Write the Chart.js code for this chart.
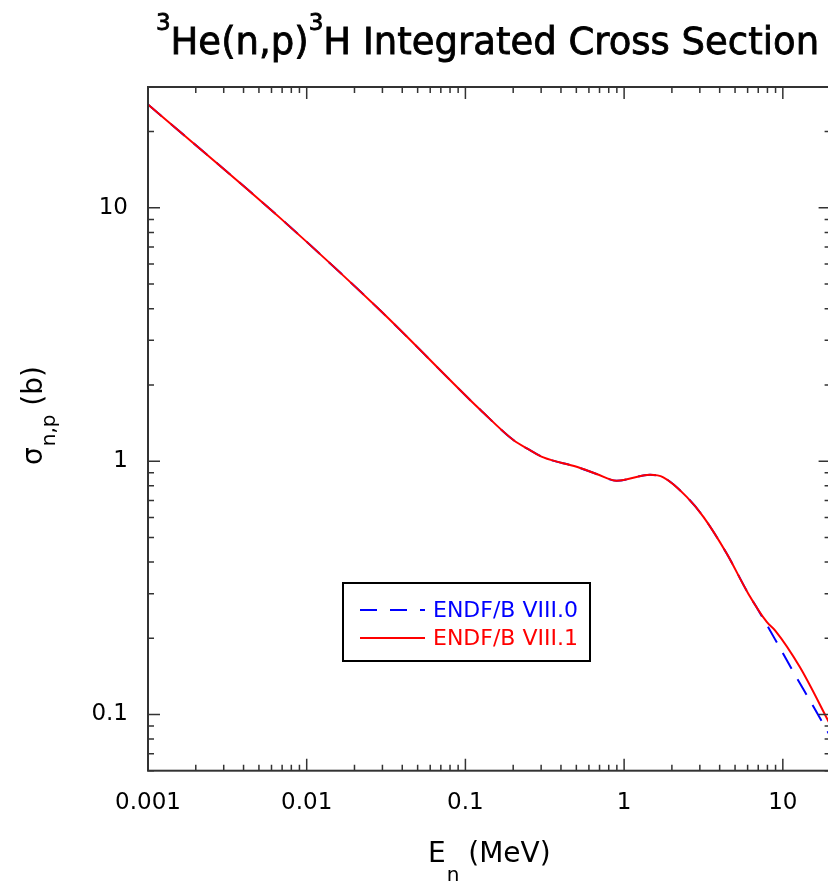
<!DOCTYPE html>
<html>
<head>
<meta charset="utf-8">
<script src="https://cdn.jsdelivr.net/npm/chart.js@4.4.1/dist/chart.umd.min.js"></script>
<style>
html,body{margin:0;padding:0;overflow:hidden;background:#fff;}
#wrap{width:840px;height:882px;}
</style>
</head>
<body>
<div id="wrap"><canvas id="xsChart" width="840" height="882"></canvas></div>
<script>
// values (E in MeV, sigma in barns)
const energyVIII1 = [0.001, 0.00679, 0.029, 0.107, 0.1236, 0.2005, 0.255, 0.31, 0.502, 0.671, 0.897, 1.456, 1.766, 2.48, 3.16, 4.43, 6.06, 7.92, 8.93, 12.8, 20];
const sigmaVIII1  = [25.6, 9.13, 3.94, 1.745, 1.60, 1.212, 1.106, 1.035, 0.95, 0.89, 0.837, 0.883, 0.863, 0.723, 0.603, 0.432, 0.30, 0.232, 0.215, 0.154, 0.0906];

const energyVIII0 = [0.001, 0.00679, 0.029, 0.107, 0.1236, 0.2005, 0.255, 0.31, 0.502, 0.671, 0.897, 1.456, 1.766, 2.48, 3.16, 4.43, 6.06, 7.01, 9.06, 11.6, 15.0, 20];
const sigmaVIII0  = [25.6, 9.13, 3.94, 1.745, 1.60, 1.212, 1.106, 1.035, 0.95, 0.89, 0.837, 0.883, 0.863, 0.723, 0.603, 0.432, 0.30, 0.258, 0.195, 0.148, 0.112, 0.0818];

const seriesLabels = ['ENDF/B VIII.0', 'ENDF/B VIII.1'];

const xTickValues = [0.001, 0.01, 0.1, 1, 10];
const xTickLabels = ['0.001', '0.01', '0.1', '1', '10'];
const yTickValues = [0.1, 1, 10];
const yTickLabels = ['0.1', '1', '10'];

const FONT = 'DejaVu Sans';
const BLUE = '#0000ff';
const RED = '#ff0000';

const toPoints = (xs, ys) => xs.map((x, i) => ({ x: x, y: ys[i] }));

/* minor + major ticks per decade */
function decadeTicks(min, max) {
  const out = [];
  for (let e = Math.floor(Math.log10(min)); e <= Math.ceil(Math.log10(max)); e++) {
    for (let m = 1; m < 10; m++) {
      const v = m * Math.pow(10, e);
      if (v >= min * 0.999 && v <= max * 1.001) out.push({ v: v, major: m === 1 });
    }
  }
  return out;
}

/* frame with inward ticks on all four sides */
const framePlugin = {
  id: 'frame',
  afterDatasetsDraw(chart) {
    const { ctx, chartArea: a, scales: { x, y } } = chart;
    ctx.save();
    ctx.strokeStyle = '#333';
    ctx.lineWidth = 2;
    ctx.strokeRect(a.left, a.top, a.right - a.left, a.bottom - a.top);
    ctx.lineWidth = 1.5;
    ctx.beginPath();
    decadeTicks(x.min, x.max).forEach(t => {
      const px = x.getPixelForValue(t.v);
      const len = t.major ? 12 : 6;
      ctx.moveTo(px, a.bottom); ctx.lineTo(px, a.bottom - len);
      ctx.moveTo(px, a.top); ctx.lineTo(px, a.top + len);
    });
    decadeTicks(y.min, y.max).forEach(t => {
      const py = y.getPixelForValue(t.v);
      const len = t.major ? 12 : 6;
      ctx.moveTo(a.left, py); ctx.lineTo(a.left + len, py);
      ctx.moveTo(a.right, py); ctx.lineTo(a.right - len, py);
    });
    ctx.stroke();
    ctx.restore();
  }
};

/* title, axis titles with sub/superscripts, legend box */
const textPlugin = {
  id: 'texts',
  afterDraw(chart) {
    const ctx = chart.ctx;
    ctx.save();
    ctx.fillStyle = '#000';
    ctx.textBaseline = 'alphabetic';
    ctx.textAlign = 'left';

    // title
    const parts = [
      { t: '3', sup: true },
      { t: 'He(n,p)', sup: false },
      { t: '3', sup: true },
      { t: 'H Integrated Cross Section', sup: false }
    ];
    const mainF = '37px ' + FONT, supF = '23px ' + FONT;
    let total = 0;
    parts.forEach(p => { ctx.font = p.sup ? supF : mainF; p.w = ctx.measureText(p.t).width; total += p.w; });
    let tx = 487.5 - total / 2;
    ctx.strokeStyle = '#000';
    ctx.lineWidth = 0.8;
    parts.forEach(p => {
      ctx.font = p.sup ? supF : mainF;
      ctx.fillText(p.t, tx, p.sup ? 30 : 54);
      ctx.strokeText(p.t, tx, p.sup ? 30 : 54);
      tx += p.w;
    });

    // x axis title
    ctx.font = '28px ' + FONT;
    let ex = 428;
    ctx.fillText('E', ex, 862);
    ex += ctx.measureText('E').width + 1;
    ctx.font = '20px ' + FONT;
    ctx.fillText('n', ex, 881);
    ex += ctx.measureText('n').width;
    ctx.font = '28px ' + FONT;
    ctx.fillText(' (MeV)', ex, 862);

    // y axis title
    ctx.save();
    ctx.translate(41.7, 465);
    ctx.rotate(-Math.PI / 2);
    ctx.font = '28px ' + FONT;
    ctx.fillText('σ', 0, 0);
    let sw = ctx.measureText('σ').width + 1;
    ctx.font = '20px ' + FONT;
    ctx.fillText('n,p', sw, 13);
    sw += ctx.measureText('n,p').width;
    ctx.font = '28px ' + FONT;
    ctx.fillText(' (b)', sw, 0);
    ctx.restore();

    // legend
    const lx = 343, ly = 583, lw = 247, lh = 78;
    ctx.fillStyle = '#fff';
    ctx.fillRect(lx, ly, lw, lh);
    ctx.strokeStyle = '#000';
    ctx.lineWidth = 2;
    ctx.strokeRect(lx, ly, lw, lh);
    const items = [
      { label: seriesLabels[0], color: BLUE, dash: [17, 13], y: 610 },
      { label: seriesLabels[1], color: RED, dash: [], y: 638 }
    ];
    ctx.font = '22px ' + FONT;
    ctx.textBaseline = 'middle';
    items.forEach(it => {
      ctx.strokeStyle = it.color;
      ctx.lineWidth = 2;
      ctx.setLineDash(it.dash);
      ctx.beginPath();
      ctx.moveTo(360, it.y);
      ctx.lineTo(425, it.y);
      ctx.stroke();
      ctx.setLineDash([]);
      ctx.fillStyle = it.color;
      ctx.fillText(it.label, 433, it.y + 1);
    });
    ctx.restore();
  }
};

const ctx = document.getElementById('xsChart').getContext('2d');

new Chart(ctx, {
  type: 'line',
  data: {
    datasets: [
      {
        label: seriesLabels[1],
        data: toPoints(energyVIII1, sigmaVIII1),
        borderColor: RED,
        borderWidth: 2,
        pointRadius: 0,
        fill: false,
        cubicInterpolationMode: 'monotone',
        order: 0
      },
      {
        label: seriesLabels[0],
        data: toPoints(energyVIII0, sigmaVIII0),
        borderColor: BLUE,
        borderWidth: 2,
        borderDash: [18, 12],
        pointRadius: 0,
        fill: false,
        cubicInterpolationMode: 'monotone',
        order: 1
      }
    ]
  },
  options: {
    responsive: false,
    devicePixelRatio: 1,
    animation: false,
    layout: { padding: { left: 0, top: 87, right: 9.4, bottom: 0 } },
    plugins: { legend: { display: false }, tooltip: { enabled: false }, title: { display: false } },
    scales: {
      x: {
        type: 'logarithmic',
        min: 0.001,
        max: 20,
        grid: { display: false, drawTicks: false },
        border: { display: false },
        afterBuildTicks: s => { s.ticks = xTickValues.map(v => ({ value: v })); },
        afterFit: s => { s.height = 111.3; },
        ticks: {
          autoSkip: false,
          maxRotation: 0,
          padding: 19,
          color: '#000',
          font: { family: FONT, size: 23 },
          callback: (v, i) => xTickLabels[i]
        }
      },
      y: {
        type: 'logarithmic',
        min: 0.06,
        max: 30,
        grid: { display: false, drawTicks: false },
        border: { display: false },
        afterBuildTicks: s => { s.ticks = yTickValues.map(v => ({ value: v })); },
        afterFit: s => { s.width = 148; },
        ticks: {
          autoSkip: false,
          padding: 20,
          color: '#000',
          font: { family: FONT, size: 23 },
          callback: (v, i) => yTickLabels[i]
        }
      }
    }
  },
  plugins: [framePlugin, textPlugin]
});
</script>
</body>
</html>
